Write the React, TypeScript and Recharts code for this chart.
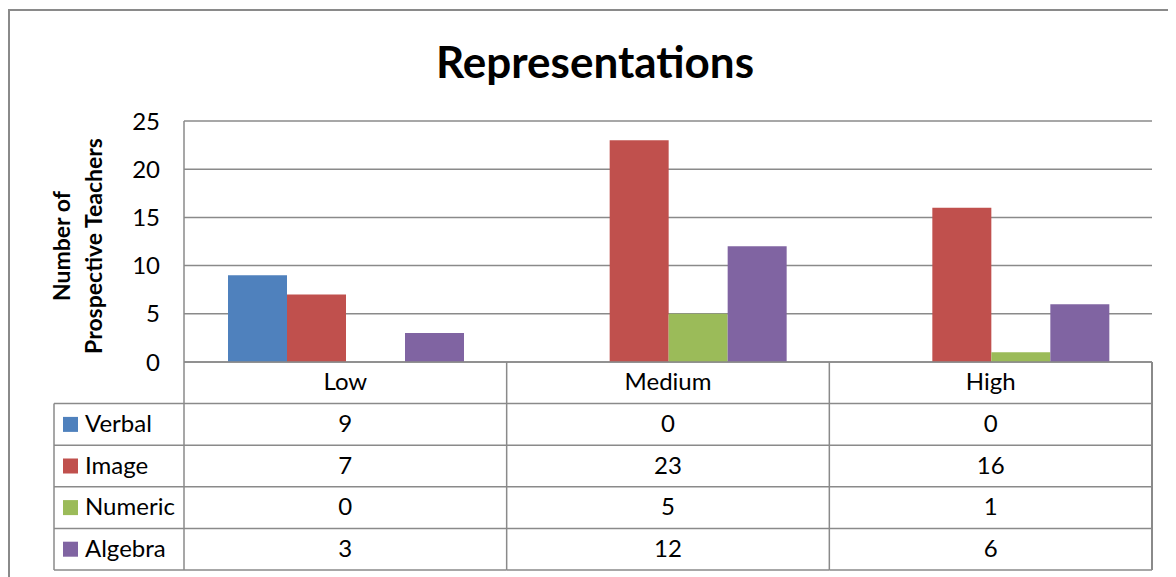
import { BarChart, Bar, XAxis, YAxis, CartesianGrid } from 'recharts';

const categories = ['Low', 'Medium', 'High'];
const verbal = [9, 0, 0];
const image = [7, 23, 16];
const numeric = [0, 5, 1];
const algebra = [3, 12, 6];
const yTicks = [0, 5, 10, 15, 20, 25];

const series = [
  { key: 'Verbal', values: verbal, color: '#4F81BD' },
  { key: 'Image', values: image, color: '#C0504D' },
  { key: 'Numeric', values: numeric, color: '#9BBB59' },
  { key: 'Algebra', values: algebra, color: '#8064A2' },
];

const data = categories.map((c, i) => {
  const row: Record<string, string | number> = { category: c };
  series.forEach((s) => {
    row[s.key] = s.values[i];
  });
  return row;
});

const FONT = 'Lato, "Noto Sans", sans-serif';
const LINE = '#8a8a8a';
const W = 1168;
const H = 569;
const M = { top: 113, right: 24, left: 116, bottom: 7 };
const Y_AXIS_W = 60;
const X_AXIS_H = 208;
const PLOT_W = W - M.left - Y_AXIS_W - M.right;
const ROW_H = X_AXIS_H / 5;
const LEGEND_LEFT = 46;
const TEXT_DY = -2;

function TableTick(props: any) {
  const { x, y, index } = props;
  const half = PLOT_W / categories.length / 2;
  const left = x - half;
  const right = x + half;
  const last = index === categories.length - 1;
  return (
    <g fontFamily={FONT} fontSize={24} fill="#000">
      <line x1={left} x2={left} y1={y} y2={y + ROW_H * 5} stroke={LINE} strokeWidth={1.5} />
      {last && (
        <line x1={right} x2={right} y1={y} y2={y + ROW_H * 5} stroke={LINE} strokeWidth={2} />
      )}
      {[1, 2, 3, 4, 5].map((k) => (
        <line
          key={k}
          x1={left}
          x2={right}
          y1={y + ROW_H * k}
          y2={y + ROW_H * k}
          stroke={LINE}
          strokeWidth={1.5}
        />
      ))}
      <text x={x} y={y + ROW_H / 2 + TEXT_DY} textAnchor="middle" dominantBaseline="central">
        {categories[index]}
      </text>
      {series.map((s, k) => (
        <text
          key={s.key}
          x={x}
          y={y + ROW_H * (k + 1.5) + TEXT_DY}
          textAnchor="middle"
          dominantBaseline="central"
        >
          {s.values[index]}
        </text>
      ))}
      {index === 0 && (
        <g>
          <line
            x1={LEGEND_LEFT}
            x2={LEGEND_LEFT}
            y1={y + ROW_H}
            y2={y + ROW_H * 5}
            stroke={LINE}
            strokeWidth={1.5}
          />
          {[1, 2, 3, 4, 5].map((k) => (
            <line
              key={k}
              x1={LEGEND_LEFT}
              x2={left}
              y1={y + ROW_H * k}
              y2={y + ROW_H * k}
              stroke={LINE}
              strokeWidth={1.5}
            />
          ))}
          {series.map((s, k) => (
            <g key={s.key}>
              <rect
                x={LEGEND_LEFT + 9}
                y={y + ROW_H * (k + 1.5) - 7.5}
                width={15}
                height={15}
                fill={s.color}
              />
              <text
                x={LEGEND_LEFT + 31}
                y={y + ROW_H * (k + 1.5) + TEXT_DY}
                dominantBaseline="central"
              >
                {s.key}
              </text>
            </g>
          ))}
        </g>
      )}
    </g>
  );
}

export default function App() {
  return (
    <div style={{ position: 'relative', width: W, height: H, fontFamily: FONT }}>
      <div style={{ position: 'absolute', left: 0, top: 1, width: 1.5, height: H, background: LINE }} />
      <div style={{ position: 'absolute', left: 0, top: 1, width: W + 8, height: 1.5, background: LINE }} />
      <svg
        width={W}
        height={110}
        style={{ position: 'absolute', left: 0, top: 0, pointerEvents: 'none' }}
      >
        <text
          x={587}
          y={53}
          textAnchor="middle"
          dominantBaseline="central"
          fontFamily={FONT}
          fontWeight="bold"
          fontSize={44}
          fill="#000"
        >
          Representations
        </text>
      </svg>
      <BarChart
        width={W}
        height={H}
        data={data}
        margin={M}
        barCategoryGap={44}
        barGap={0}
      >
        <CartesianGrid vertical={false} stroke={LINE} strokeWidth={1.5} />
        <XAxis
          dataKey="category"
          height={X_AXIS_H}
          axisLine={{ stroke: LINE, strokeWidth: 1.5 }}
          tickLine={false}
          tickSize={0}
          tickMargin={0}
          interval={0}
          tick={<TableTick />}
        />
        <YAxis
          width={Y_AXIS_W}
          domain={[0, 25]}
          ticks={yTicks}
          axisLine={{ stroke: LINE, strokeWidth: 1.5 }}
          tickLine={false}
          tickSize={6}
          tickMargin={18}
          tick={{ fontSize: 24, fill: '#000', fontFamily: FONT }}
          label={{
            content: () => (
              <g fontFamily={FONT} fontWeight="bold" fontSize={23} fill="#000">
                <text
                  x={53}
                  y={238}
                  transform="rotate(-90 53 238)"
                  textAnchor="middle"
                  dominantBaseline="central"
                >
                  Number of
                </text>
                <text
                  x={85}
                  y={238}
                  transform="rotate(-90 85 238)"
                  textAnchor="middle"
                  dominantBaseline="central"
                >
                  Prospective Teachers
                </text>
              </g>
            ),
          }}
        />
        {series.map((s) => (
          <Bar key={s.key} dataKey={s.key} fill={s.color} isAnimationActive={false} />
        ))}
      </BarChart>
    </div>
  );
}
